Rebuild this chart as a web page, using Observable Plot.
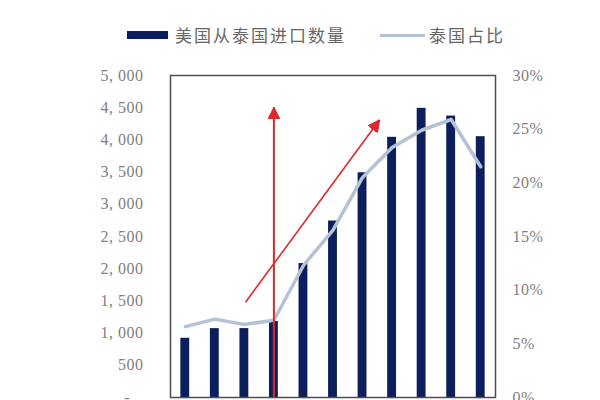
<!DOCTYPE html>
<html><head><meta charset="utf-8">
<script src="https://cdn.jsdelivr.net/npm/d3@7"></script>
<script src="https://cdn.jsdelivr.net/npm/@observablehq/plot@0.6"></script>
<style>
html,body{margin:0;padding:0;background:#fff;overflow:hidden;width:600px;height:400px}
#legend{position:relative;height:55px;width:600px;font-family:"Noto Sans CJK SC",sans-serif;font-size:17px;color:#666;letter-spacing:2px}
#legend .sw{position:absolute}
#legend .tx{position:absolute;top:23px;line-height:24px;white-space:nowrap}
</style></head>
<body>
<div id="legend">
  <span class="sw" style="left:127px;top:31px;width:41px;height:8px;background:#0c1f5c"></span>
  <span class="tx" style="left:175px">美国从泰国进口数量</span>
  <span class="sw" style="left:380px;top:34px;width:45px;height:3px;background:#b5c2d6"></span>
  <span class="tx" style="left:429px">泰国占比</span>
</div>
<div id="chart"></div>
<script>
// Data
const years = ["2012","2013","2014","2015","2016","2017","2018","2019","2020","2021","2022"];
const imports = [920, 1070, 1070, 1180, 2080, 2740, 3490, 4040, 4490, 4370, 4050];
const sharePct = [6.6, 7.3, 6.8, 7.2, 12.3, 15.6, 20.5, 23.3, 24.9, 25.9, 21.5];
const leftTicks = [0, 500, 1000, 1500, 2000, 2500, 3000, 3500, 4000, 4500, 5000];
const rightTicks = [0, 5, 10, 15, 20, 25, 30];
// annotation arrows (category position, import value)
const arrowX1 = [4, 3.04];
const arrowY1 = [0, 1480];
const arrowX2 = [4, 7.58];
const arrowY2 = [4508, 4312];
const arrowW = [2, 1.6];

const yMax = 5000, pMax = 30, k = yMax / pMax;
const rows = years.map((y, i) => ({year: y, pos: i + 1, imports: imports[i], share: sharePct[i]}));
const arrows = arrowX1.map((x, i) => ({x1: x, y1: arrowY1[i], x2: arrowX2[i], y2: arrowY2[i], w: arrowW[i]}));

function headMarker(color, context) {
  const ns = "http://www.w3.org/2000/svg";
  const doc = (context && context.document) || document;
  const len = 12, wid = 12;
  const m = doc.createElementNS(ns, "marker");
  m.setAttribute("viewBox", `${-len} ${-wid / 2} ${len} ${wid}`);
  m.setAttribute("markerWidth", len);
  m.setAttribute("markerHeight", wid);
  m.setAttribute("markerUnits", "userSpaceOnUse");
  m.setAttribute("orient", "auto");
  m.setAttribute("refX", 0);
  m.setAttribute("refY", 0);
  const p = doc.createElementNS(ns, "path");
  p.setAttribute("d", `M0,0L${-len},${-wid / 2}L${-len},${wid / 2}Z`);
  p.setAttribute("fill", color);
  m.appendChild(p);
  return m;
}

const fmtLeft = v => v === 0 ? "-\u00a0\u00a0\u00a0" : d3.format(",")(v).replace(",", ", ");

function build(marker) {
  return Plot.plot({
    width: 600,
    height: 372,
    marginTop: 20,
    marginBottom: 30,
    marginLeft: 170,
    marginRight: 105,
    style: {fontFamily: "'Liberation Serif', serif", fontSize: "16px", color: "#808080", background: "#fff", letterSpacing: "0.5px"},
    x: {domain: [0.5, 11.5], axis: null},
    y: {domain: [0, yMax], axis: null},
    marks: [
      Plot.rectY(rows, {x1: d => d.pos - 0.15, x2: d => d.pos + 0.15, y: "imports", fill: "#0c1f5c"}),
      Plot.line(rows, {x: "pos", y: d => d.share * k, stroke: "#b5c2d6", strokeWidth: 3.5, strokeLinejoin: "round", strokeLinecap: "round"}),
      Plot.link(arrows, {x1: "x1", y1: "y1", x2: "x2", y2: "y2", stroke: "#e3262b", strokeWidth: "w", markerEnd: marker}),
      Plot.axisY(leftTicks, {anchor: "left", tickSize: 0, tickPadding: 27, tickFormat: fmtLeft}),
      Plot.axisY(rightTicks.map(p => p * k), {anchor: "right", tickSize: 0, tickPadding: 17, tickFormat: v => Math.round(v / k) + "%"}),
      Plot.frame({stroke: "#4d4d4d", strokeWidth: 1.5})
    ]
  });
}

let chart;
try { chart = build(headMarker); } catch (e) { chart = build("arrow"); }
document.getElementById("chart").appendChild(chart);
</script>
</body></html>
